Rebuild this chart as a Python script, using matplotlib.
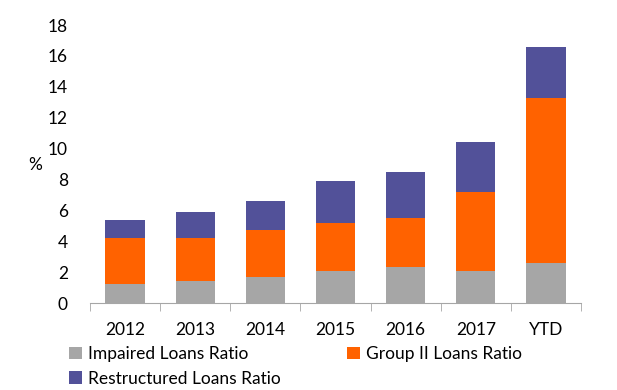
import matplotlib
matplotlib.use('Agg')
import matplotlib.pyplot as plt
import numpy as np

categories = ['2012', '2013', '2014', '2015', '2016', '2017', 'YTD']
impaired = [1.2, 1.4, 1.7, 2.1, 2.3, 2.1, 2.6]
group2 = [3.0, 2.8, 3.0, 3.1, 3.2, 5.1, 10.7]
restructured = [1.2, 1.7, 1.9, 2.7, 3.0, 3.2, 3.3]

plt.rcParams['font.family'] = ['Lato', 'DejaVu Sans']
fs = 12.5

fig = plt.figure(figsize=(6.17, 3.9), dpi=100)
ax = fig.add_axes([90 / 617, 1 - 303 / 390, 491 / 617, 278 / 390])

x = np.arange(len(categories))
w = 0.56
b1 = np.array(impaired)
b2 = b1 + np.array(group2)
h1 = ax.bar(x, impaired, w, color='#A6A6A6', label='Impaired Loans Ratio')
h2 = ax.bar(x, group2, w, bottom=b1, color='#FF6200', label='Group II Loans Ratio')
h3 = ax.bar(x, restructured, w, bottom=b2, color='#525199', label='Restructured Loans Ratio')

ax.set_xlim(-0.5, len(categories) - 0.5)
ax.set_ylim(0, 18)
ax.set_yticks(range(0, 19, 2))
ax.set_xticks(x)
ax.set_xticklabels(categories)
ax.set_xticks(np.arange(-0.5, len(categories), 1), minor=True)
ax.tick_params(axis='x', which='major', length=0, pad=14, labelsize=fs)
ax.tick_params(axis='x', which='minor', length=6, color='#A6A6A6', direction='out')
ax.tick_params(axis='y', length=0, pad=16, labelsize=fs)
for s in ['top', 'right', 'left']:
    ax.spines[s].set_visible(False)
ax.spines['bottom'].set_color('#A6A6A6')

fig.text(35 / 617, 1 - 165 / 390, '%', fontsize=fs, ha='center', va='center')

# column-wise fill -> order so rows read Impaired, Group II / Restructured
ax.legend([h1, h3, h2], ['Impaired Loans Ratio', 'Restructured Loans Ratio', 'Group II Loans Ratio'],
          loc='upper left', bbox_to_anchor=(-0.042, -0.155), ncol=2, frameon=False,
          fontsize=fs, handlelength=0.75, handleheight=0.75, handletextpad=0.35,
          columnspacing=3.8, labelspacing=0.5, borderaxespad=0, borderpad=0)

fig.savefig('out.png', dpi=100)
